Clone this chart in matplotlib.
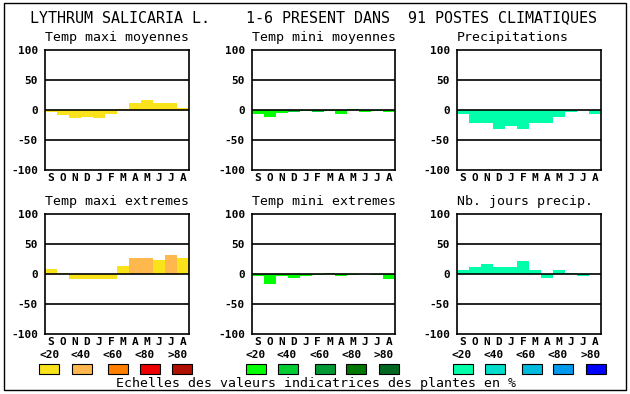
import matplotlib
matplotlib.use("Agg")
import matplotlib.pyplot as plt
from matplotlib.patches import Rectangle

# data
months = ["S", "O", "N", "D", "J", "F", "M", "A", "M", "J", "J", "A"]
yticks = [100, 50, 0, -50, -100]
scale_labels = ["<20", "<40", "<60", "<80", ">80"]

title = "LYTHRUM SALICARIA L.    1-6 PRESENT DANS  91 POSTES CLIMATIQUES"
footer = "Echelles des valeurs indicatrices des plantes en %"

panel_titles = ["Temp maxi moyennes", "Temp mini moyennes", "Precipitations",
                "Temp maxi extremes", "Temp mini extremes", "Nb. jours precip."]

tmax_moy = [-4, -8, -13, -11, -14, -6, 2, 11, 16, 11, 12, 4]
tmin_moy = [-7, -11, -5, -3, -2, -3, -2, -7, 2, -4, -2, -4]
precip = [-7, -21, -21, -32, -26, -31, -22, -21, -12, -4, 0, -7]
tmax_ext = [8, 2, -8, -8, -8, -8, 14, 27, 27, 24, 31, 26]
tmin_ext = [-4, -16, -3, -6, -4, -2, 2, -4, -2, 0, -2, -8]
nb_jours = [7, 12, 16, 12, 12, 21, 7, -6, 6, 2, -4, 0]

# colour class of each bar (0 = <20 ... 4 = >80)
tmax_moy_lvl = [0] * 12
tmin_moy_lvl = [0, 0, 0, 1, 0, 1, 0, 0, 1, 0, 0, 0]
precip_lvl = [0] * 12
tmax_ext_lvl = [0, 0, 0, 0, 0, 0, 0, 1, 1, 0, 1, 0]
tmin_ext_lvl = [0] * 12
nb_jours_lvl = [0] * 12

warm = ["#fae31b", "#ffb84d", "#ff7f00", "#ee0000", "#b01000"]
greens = ["#00ff00", "#00cc33", "#009933", "#007700", "#006622"]
blues = ["#00ffaa", "#00ddcc", "#00bbdd", "#0099ee", "#0000ff"]

panels = [
    (tmax_moy, tmax_moy_lvl, warm),
    (tmin_moy, tmin_moy_lvl, greens),
    (precip, precip_lvl, blues),
    (tmax_ext, tmax_ext_lvl, warm),
    (tmin_ext, tmin_ext_lvl, greens),
    (nb_jours, nb_jours_lvl, blues),
]

W, H = 630, 394
fig = plt.figure(figsize=(W / 100, H / 100), dpi=100)


def fx(x):
    return x / W


def fy(y):
    return 1 - y / H


mono = "DejaVu Sans Mono"

# pixel boxes of the six axes (left, top, right, bottom)
lefts = [45, 252, 457]
rights = [189, 395, 601]
tops = [50, 214]
bottoms = [170, 334]

for i, (vals, lvl, pal) in enumerate(panels):
    r, c = divmod(i, 3)
    l, t, rr, b = lefts[c], tops[r], rights[c], bottoms[r]
    ax = fig.add_axes([fx(l), fy(b), (rr - l) / W, (b - t) / H])
    ax.bar(range(12), vals, width=1.0, color=[pal[k] for k in lvl],
           linewidth=0, zorder=1)
    for yv in (-50, 0, 50):
        ax.axhline(yv, color="black", lw=1.2, zorder=3)
    ax.set_xlim(-0.5, 11.5)
    ax.set_ylim(-100, 100)
    ax.set_yticks(yticks)
    ax.set_yticklabels([str(v) for v in yticks], family=mono,
                       weight="bold", fontsize=8)
    ax.set_xticks(range(12))
    ax.set_xticklabels(months, family=mono, weight="bold", fontsize=8)
    ax.tick_params(length=0, pad=2)
    ax.tick_params(axis="y", pad=5)
    for s in ax.spines.values():
        s.set_linewidth(1.2)
    fig.text(fx(l), fy(t - 12), panel_titles[i], family=mono,
             fontsize=9.5, ha="left", va="center")

fig.text(fx(30), fy(18), title, family=mono, fontsize=10.8,
         ha="left", va="center")

# colour scale legend
lab_x = [[50, 81, 113, 145, 178], [256, 287, 320, 352, 384],
         [462, 494, 526, 558, 591]]
box_x = [[49, 82, 118, 150, 182], [256, 288, 325, 356, 389],
         [463, 495, 532, 563, 596]]
for g, pal in enumerate([warm, greens, blues]):
    for k in range(5):
        fig.text(fx(lab_x[g][k]), fy(355), scale_labels[k], family=mono,
                 weight="bold", fontsize=8, ha="center", va="center")
        fig.patches.append(Rectangle((fx(box_x[g][k] - 10), fy(374)),
                                     20 / W, 10 / H, transform=fig.transFigure,
                                     facecolor=pal[k], edgecolor="black",
                                     lw=0.8))

fig.text(fx(316), fy(383), footer, family=mono, fontsize=9.5,
         ha="center", va="center")

fig.patches.append(Rectangle((fx(4), fy(390)), 622 / W, 387 / H,
                             transform=fig.transFigure, fill=False,
                             edgecolor="black", lw=1))

fig.savefig("out.png", dpi=100)
